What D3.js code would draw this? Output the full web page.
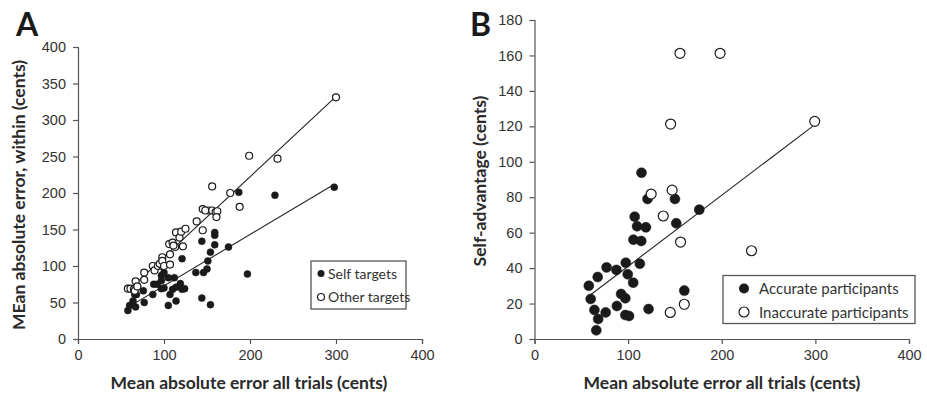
<!DOCTYPE html>
<html>
<head>
<meta charset="utf-8">
<script src="https://cdn.jsdelivr.net/npm/d3@7"></script>
<style>
  body { margin: 0; background: #fff; }
  svg { font-family: Lato, "Open Sans", sans-serif; }
  .tick text { fill: #333; font-size: 14.5px; }
  .domain, .tick line { stroke: #555; }
</style>
</head>
<body>
<div id="chart"></div>
<script>
var W = 927, H = 393

// panel A: mean absolute error all trials (x) vs within-error (y)
var selfTargets = [
  [58, 39], [60, 46], [64, 52], [66, 61], [67, 44], [68, 61], [76, 66], [77, 50],
  [87, 61], [88, 75], [92, 75], [97, 87], [97, 80], [97, 69], [100, 70], [100, 91],
  [105, 84], [105, 46], [107, 61], [110, 68], [112, 84], [114, 71], [114, 52], [119, 76],
  [121, 68], [121, 110], [150, 96], [151, 107], [159, 142], [175, 126], [124, 69], [137, 91],
  [144, 134], [144, 56], [146, 91], [154, 47], [154, 119], [159, 146], [197, 89], [229, 197],
  [298, 208], [187, 201], [159, 129]
]
var otherTargets = [
  [58, 69], [61, 69], [65, 68], [66, 66], [67, 79], [69, 72], [77, 81], [77, 91],
  [87, 100], [89, 94], [93, 100], [98, 100], [95, 103], [98, 112], [98, 107], [100, 100],
  [107, 116], [107, 102], [106, 130], [110, 132], [113, 126], [111, 128], [114, 146], [118, 139],
  [120, 147], [122, 127], [152, 176], [156, 176], [160, 174], [177, 200], [125, 151], [138, 161],
  [145, 149], [145, 178], [148, 176], [156, 209], [162, 175], [161, 167], [199, 251], [232, 247],
  [300, 331], [188, 181]
]
var trendSelf = [[59, 44], [298, 212]]
var trendOther = [[58, 66], [298, 330]]

// panel B: self-advantage
var accurate = [
  [58, 30], [60, 22.6], [64, 16.4], [66, 4.9], [67.5, 35], [68, 11.3], [76, 15], [77, 40.4],
  [87.5, 39], [88, 18.6], [92.5, 25.4], [97, 13.5], [97, 23], [97.5, 43], [99.6, 36.5], [101, 13],
  [105.4, 31.8], [105.7, 56], [107, 69], [109.6, 63.6], [112.5, 42.5], [114, 55.3], [114.3, 93.8], [119, 63],
  [120.7, 79], [121.8, 16.9], [150, 79], [151.4, 65.3], [160, 27.3], [176, 73]
]
var inaccurate = [
  [124.6, 81.8], [137.5, 69.4], [145, 15], [145.4, 121.3], [147, 84], [155.4, 161.2],
  [156, 54.7], [160, 19.6], [198.2, 161.2], [231.8, 49.8], [299.3, 122.8]
]
var trendB = [[60, 25], [297, 120]]

var xTicks = [0, 100, 200, 300, 400]
var yTicksA = [0, 50, 100, 150, 200, 250, 300, 350, 400]
var yTicksB = [0, 20, 40, 60, 80, 100, 120, 140, 160, 180]

var svg = d3.select("#chart").append("svg").attr("width", W).attr("height", H)

var xA = d3.scaleLinear().domain([0, 400]).range([78, 422])
var yA = d3.scaleLinear().domain([0, 400]).range([339, 47])
var xB = d3.scaleLinear().domain([0, 400]).range([534.5, 909])
var yB = d3.scaleLinear().domain([0, 180]).range([339, 20])

function drawAxes(x, y, yTicks) {
  svg.append("g")
    .attr("transform", "translate(0," + y.range()[0] + ")")
    .call(d3.axisBottom(x).tickValues(xTicks).tickSizeOuter(0).tickSize(5).tickPadding(6))
  svg.append("g")
    .attr("transform", "translate(" + x.range()[0] + ",0)")
    .call(d3.axisLeft(y).tickValues(yTicks).tickSizeOuter(0).tickSize(5).tickPadding(7))
  svg.selectAll(".domain, .tick line").attr("stroke-width", 1.2)
}

function line(x, y, pts) {
  svg.append("path")
    .attr("d", d3.line().x(function(d) { return x(d[0]) }).y(function(d) { return y(d[1]) })(pts))
    .attr("fill", "none").attr("stroke", "#222").attr("stroke-width", 1.1)
}

function dots(x, y, pts, r, filled) {
  svg.append("g").selectAll("circle")
    .data(pts).enter()
    .append("circle")
    .attr("cx", function(d) { return x(d[0]) })
    .attr("cy", function(d) { return y(d[1]) })
    .attr("r", r)
    .attr("fill", filled ? "#1a1a1a" : "#fff")
    .attr("stroke", "#1a1a1a")
    .attr("stroke-width", filled ? 0.5 : 1.2)
}

// ---- panel A
drawAxes(xA, yA, yTicksA)
line(xA, yA, trendSelf)
line(xA, yA, trendOther)
dots(xA, yA, selfTargets, 3.5, true)
dots(xA, yA, otherTargets, 3.5, false)

// ---- panel B
drawAxes(xB, yB, yTicksB)
line(xB, yB, trendB)
dots(xB, yB, accurate, 5, true)
dots(xB, yB, inaccurate, 5, false)

// panel letters
svg.append("text").attr("x", 16).attr("y", 36).text("A")
  .style("font-size", "32px").style("font-weight", "bold").attr("fill", "#1a1a1a")
svg.append("text").attr("x", 470).attr("y", 36).text("B")
  .style("font-size", "32px").style("font-weight", "bold").attr("fill", "#1a1a1a")

// axis titles
function title(x, y, rot, txt) {
  svg.append("text")
    .attr("transform", "translate(" + x + "," + y + ")" + (rot ? " rotate(-90)" : ""))
    .attr("text-anchor", "middle")
    .style("font-size", "17.5px").style("font-weight", "bold").attr("fill", "#2a2a2a")
    .text(txt)
}
title(249, 389, false, "Mean absolute error all trials (cents)")
title(722, 389, false, "Mean absolute error all trials (cents)")
title(25, 195, true, "MEan absolute error, within (cents)")
title(486, 181, true, "Self-advantage (cents)")

// legend A
var legA = svg.append("g")
legA.append("rect").attr("x", 311).attr("y", 261).attr("width", 95).attr("height", 48)
  .attr("fill", "#fff").attr("stroke", "#555").attr("stroke-width", 1.3)
legA.append("circle").attr("cx", 321).attr("cy", 273.5).attr("r", 3.5).attr("fill", "#1a1a1a")
legA.append("circle").attr("cx", 321).attr("cy", 297).attr("r", 3.5).attr("fill", "#fff")
  .attr("stroke", "#1a1a1a").attr("stroke-width", 1.2)
legA.append("text").attr("x", 328).attr("y", 278.5).text("Self targets")
  .style("font-size", "14px").attr("fill", "#333")
legA.append("text").attr("x", 328).attr("y", 302).text("Other targets")
  .style("font-size", "14px").attr("fill", "#333")

// legend B
var legB = svg.append("g")
legB.append("rect").attr("x", 723).attr("y", 275.5).attr("width", 192).attr("height", 48)
  .attr("fill", "#fff").attr("stroke", "#555").attr("stroke-width", 1.3)
legB.append("circle").attr("cx", 744).attr("cy", 288.5).attr("r", 5).attr("fill", "#1a1a1a")
legB.append("circle").attr("cx", 744).attr("cy", 312).attr("r", 5).attr("fill", "#fff")
  .attr("stroke", "#1a1a1a").attr("stroke-width", 1.2)
legB.append("text").attr("x", 759).attr("y", 294).text("Accurate participants")
  .style("font-size", "15px").attr("fill", "#333")
legB.append("text").attr("x", 759).attr("y", 318).text("Inaccurate participants")
  .style("font-size", "15px").attr("fill", "#333")
</script>
</body>
</html>
